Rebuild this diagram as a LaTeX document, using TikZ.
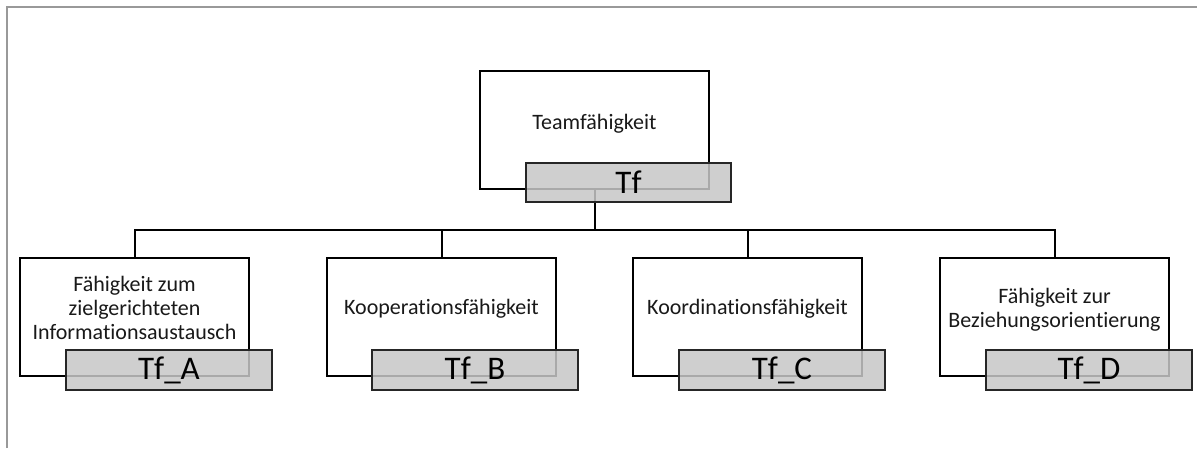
\documentclass[tikz,border=0pt]{standalone}
\usepackage{fontspec}
\setmainfont[Ligatures=CommonOff]{Carlito}
\begin{document}
\begin{tikzpicture}[x=1pt,y=-1pt,
  wbox/.style={draw=black,line width=1.2pt,fill=white,minimum width=229pt,minimum height=118pt,inner sep=0pt},
  gbox/.style={draw=black!85,line width=1.6pt,fill=black!22,fill opacity=0.85,text opacity=1,minimum width=206pt,minimum height=40pt,inner sep=0pt,font=\fontsize{33}{33}\selectfont},
  lbl/.style={align=center,font=\fontsize{22}{24}\selectfont,inner sep=0pt,text=black!90},
  conn/.style={draw=black,line width=2pt}]
\useasboundingbox (0,0) rectangle (1197,448);
\draw[black!40,line width=1.5pt] (7,448) -- (7,7) -- (1197,7);
% white boxes
\node[wbox] (top) at (594.5,130) {};
\node[wbox] (a) at (134.5,317) {};
\node[wbox] (b) at (441.5,317) {};
\node[wbox] (c) at (747.5,317) {};
\node[wbox] (d) at (1054.5,317) {};
% labels
\node[lbl] (tl) at (594.5,124) {Teamfähigkeit};
\node[lbl] (al) at (134.5,308) {Fähigkeit zum\\zielgerichteten\\Informationsaustausch};
\node[lbl] (bl) at (441.5,309) {Kooperationsfähigkeit};
\node[lbl] (cl) at (747.5,309) {Koordinationsfähigkeit};
\node[lbl] (dl) at (1054.5,310) {Fähigkeit zur\\Beziehungsorientierung};
% connectors
\coordinate (bus) at (594.5,230);
\draw[conn] (top.south) -- (bus);
\draw[conn] (a.north) -- (a.north |- bus) -- (d.north |- bus) -- (d.north);
\draw[conn] (b.north) -- (b.north |- bus);
\draw[conn] (c.north) -- (c.north |- bus);
% gray code boxes
\node[gbox,minimum width=205pt,minimum height=39pt] (tg) at (628.5,182.5) {Tf};
\node[gbox] (ag) at (169,370) {Tf\_A};
\node[gbox] (bg) at (475,370) {Tf\_B};
\node[gbox] (cg) at (782,370) {Tf\_C};
\node[gbox] (dg) at (1089,370) {Tf\_D};
\end{tikzpicture}
\end{document}
